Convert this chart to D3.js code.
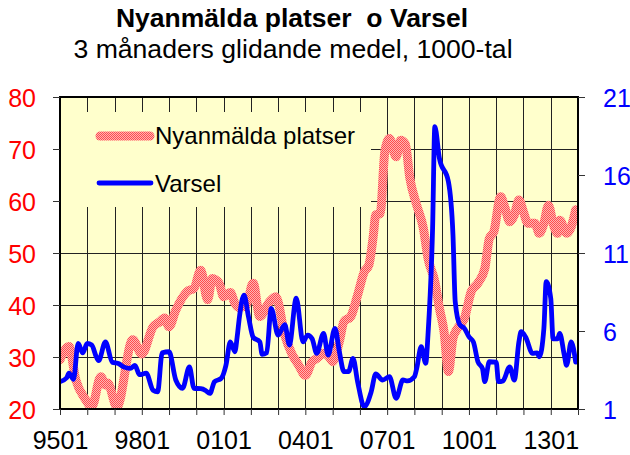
<!DOCTYPE html>
<html><head><meta charset="utf-8">
<script src="https://cdn.jsdelivr.net/npm/d3@7"></script>
<style>
html,body{margin:0;padding:0;background:#fff;}
svg{display:block;font-family:"Liberation Sans",Arial,sans-serif;}
text{white-space:pre;}
</style></head>
<body><svg id="c" width="630" height="455"></svg>
<script>
// ---- data (month "YYYY-MM", values in 1000s) ----
const platserMonths = ["1995-01","1995-05","1995-08","1995-12","1996-03","1996-07","1996-09","1996-10","1997-02","1997-09","1998-01","1998-06","1998-09","1998-11","1999-01","1999-04","1999-09","1999-12","2000-03","2000-06","2000-08","2000-11","2001-01","2001-04","2001-06","2001-08","2001-11","2002-02","2002-05","2002-09","2002-12","2003-04","2003-07","2003-10","2004-01","2004-04","2004-06","2004-09","2004-12","2005-01","2005-04","2005-06","2005-09","2005-12","2006-03","2006-05","2006-07","2006-08","2006-10","2006-12","2007-02","2007-05","2007-07","2007-09","2007-11","2008-02","2008-05","2008-07","2008-10","2008-12","2009-02","2009-04","2009-06","2009-08","2009-11","2010-02","2010-05","2010-08","2010-10","2010-12","2011-03","2011-05","2011-07","2011-09","2011-11","2012-01","2012-03","2012-06","2012-08","2012-10","2012-12","2013-02","2013-04","2013-05","2013-08","2013-10","2013-12"];
const platserValues = [29.5,32,25.6,22,20.4,26.2,24.6,25,20.4,33.3,30.6,35.8,36.8,37.5,35.8,39,42.6,43.2,46.7,41,45.1,44.2,41.6,42.4,40.3,39.5,40,44.2,37.8,40.5,41.6,34.2,30.7,28.5,26.5,29.1,29.7,30.7,29.7,29.1,33,36.8,37.8,41.9,46.4,47.7,53.5,57.3,57.6,69.5,72,68.5,71.7,71,64.4,59.2,54.7,49,44.5,39.4,34.9,27.2,33.6,35.5,37.4,42.6,44.2,47,52.8,54.1,60.8,58.6,56,57.3,60.2,57.9,55.7,55.7,53.8,55.7,59.2,55.7,53.8,56.3,53.8,55,58.3];

const varselMonths = ["1995-01","1995-04","1995-05","1995-07","1995-09","1995-11","1996-01","1996-03","1996-05","1996-06","1996-09","1996-12","1997-03","1997-05","1997-08","1997-10","1997-12","1998-03","1998-06","1998-08","1998-10","1999-01","1999-04","1999-07","1999-10","1999-12","2000-03","2000-05","2000-07","2000-09","2000-12","2001-02","2001-04","2001-06","2001-07","2001-08","2001-10","2001-12","2002-02","2002-05","2002-06","2002-08","2002-10","2003-01","2003-04","2003-06","2003-09","2003-12","2004-02","2004-04","2004-06","2004-09","2004-11","2005-02","2005-04","2005-06","2005-08","2005-10","2005-12","2006-03","2006-06","2006-08","2006-11","2007-02","2007-05","2007-08","2007-10","2008-01","2008-02","2008-04","2008-06","2008-07","2008-09","2008-10","2008-12","2009-04","2009-06","2009-07","2009-09","2009-11","2010-01","2010-03","2010-05","2010-07","2010-08","2010-10","2011-01","2011-02","2011-04","2011-07","2011-09","2011-11","2011-12","2012-02","2012-05","2012-07","2012-08","2012-10","2012-11","2013-01","2013-02","2013-04","2013-05","2013-07","2013-08","2013-10","2013-12"];
const varselValues = [2.75,3.0,3.3,2.9,5.2,4.6,5.2,5.1,4.35,4.1,5.3,4.0,3.9,3.7,3.6,3.8,3.2,3.3,2.2,2.1,4.6,4.67,2.86,2.33,3.7,2.33,2.3,2.2,2.0,2.75,2.97,3.8,5.3,4.67,5.6,6.9,8.3,6.9,5.6,5.3,4.5,4.6,7.45,5.74,6.4,5.1,8.1,5.3,5.74,5.5,4.57,5.85,4.46,6.17,4.67,3.4,3.4,4.25,2.75,1.15,2.1,3.25,2.86,3.07,1.69,2.86,2.8,3.07,3.6,5.0,3.93,5.74,12.6,19.1,17.07,15.57,12.15,7.88,6.4,6.17,5.63,5.3,4.03,3.6,2.75,4.03,4.0,2.75,2.8,3.7,2.86,5.3,5.96,5.6,4.57,4.6,4.35,6.17,9.16,8.1,5.5,5.5,5.85,4.46,3.8,5.3,4.0];

const xTickLabels = ["9501","9801","0101","0401","0701","1001","1301"];
const leftTicks = [20,30,40,50,60,70,80];
const rightTicks = [1,6,11,16,21];
const seriesNames = ["Nyanmälda platser","Varsel"];
const titleText = "Nyanmälda platser  o Varsel";
const subtitleText = "3 månaders glidande medel, 1000-tal";

// ---- layout ----
const L = 60, R = 578, T = 97, B = 409;
const svg = d3.select("#c");
const parse = d3.timeParse("%Y-%m");
const FONT = "'Liberation Sans',Arial,sans-serif";

const x = d3.scaleTime().domain([new Date(1995,0,1), new Date(2014,0,1)]).range([L, R]);
const yL = d3.scaleLinear().domain([20,80]).range([B, T]);
const yR = d3.scaleLinear().domain([1,21]).range([B, T]);

const defs = svg.append("defs");
const pat = defs.append("pattern").attr("id","checker").attr("patternUnits","userSpaceOnUse")
  .attr("width",2).attr("height",2);
pat.append("rect").attr("width",2).attr("height",2).attr("fill","#ffb4b4");
pat.append("rect").attr("width",1).attr("height",1).attr("fill","#ff4d4d");
pat.append("rect").attr("x",1).attr("y",1).attr("width",1).attr("height",1).attr("fill","#ff4d4d");

// title
svg.append("text").attr("x",292).attr("y",27).attr("text-anchor","middle")
  .attr("font-size",26.5).attr("font-weight","bold").attr("fill","#000").text(titleText);
svg.append("text").attr("x",293).attr("y",58).attr("text-anchor","middle")
  .attr("font-size",26.6).attr("fill","#000").text(subtitleText);

// plot background
svg.append("rect").attr("x",L).attr("y",T).attr("width",R-L).attr("height",B-T).attr("fill","#ffffcc");

// gridlines
const years = x.ticks(d3.timeYear.every(1));
svg.append("g").selectAll("line").data(years.slice(1,-1)).join("line")
  .attr("x1",d=>Math.round(x(d))+0.5).attr("x2",d=>Math.round(x(d))+0.5)
  .attr("y1",T).attr("y2",B).attr("stroke","#222").attr("stroke-width",1);
svg.append("g").selectAll("line").data(leftTicks.slice(1,-1)).join("line")
  .attr("x1",L).attr("x2",R)
  .attr("y1",d=>Math.round(yL(d))+0.5).attr("y2",d=>Math.round(yL(d))+0.5)
  .attr("stroke","#222").attr("stroke-width",1);

// legend background (covers grid)
svg.append("rect").attr("x",L+1).attr("y",112).attr("width",310).attr("height",95).attr("fill","#ffffcc");

// lines
const lineP = d3.line().x(d=>x(d[0])).y(d=>yL(d[1])).curve(d3.curveMonotoneX);
const lineV = d3.line().x(d=>x(d[0])).y(d=>yR(d[1])).curve(d3.curveMonotoneX);
const pData = platserMonths.map((m,i)=>[parse(m), platserValues[i]]);
const vData = varselMonths.map((m,i)=>[parse(m), varselValues[i]]);

const clip = defs.append("clipPath").attr("id","clip");
clip.append("rect").attr("x",L).attr("y",T).attr("width",R-L).attr("height",B-T);

svg.append("path").datum(pData).attr("d",lineP).attr("fill","none")
  .attr("stroke","url(#checker)").attr("stroke-width",9).attr("stroke-linejoin","round").attr("stroke-linecap","round")
  .attr("clip-path","url(#clip)");
svg.append("path").datum(vData).attr("d",lineV).attr("fill","none")
  .attr("stroke","#0000ff").attr("stroke-width",4.8).attr("stroke-linejoin","round").attr("stroke-linecap","round")
  .attr("clip-path","url(#clip)");

// frame
svg.append("rect").attr("x",L).attr("y",T).attr("width",R-L).attr("height",B-T)
  .attr("fill","none").attr("stroke","#000").attr("stroke-width",2);

// axes
const xAxis = d3.axisBottom(x).ticks(d3.timeYear.every(1)).tickSize(6)
  .tickFormat(d => { const k=(d.getFullYear()-1995); return (k%3===0 && k/3 < xTickLabels.length) ? xTickLabels[k/3] : ""; });
const gx = svg.append("g").attr("transform",`translate(0,${B})`).call(xAxis);
gx.select(".domain").remove();
gx.selectAll("line").attr("stroke","#333");
gx.selectAll("text").attr("font-size",25).attr("fill","#000").attr("dy","1.25em").attr("font-family",FONT);

const gl = svg.append("g").attr("transform",`translate(${L},0)`)
  .call(d3.axisLeft(yL).tickValues(leftTicks).tickSize(7).tickPadding(17));
gl.select(".domain").remove();
gl.selectAll("line").attr("stroke","#333");
gl.selectAll("text").attr("font-size",25).attr("fill","#ff0000").attr("dy","0.36em").attr("font-family",FONT);

const gr = svg.append("g").attr("transform",`translate(${R},0)`)
  .call(d3.axisRight(yR).tickValues(rightTicks).tickSize(7).tickPadding(18));
gr.select(".domain").remove();
gr.selectAll("line").attr("stroke","#333");
gr.selectAll("text").attr("font-size",25).attr("fill","#0000ff").attr("dy","0.36em").attr("font-family",FONT);

// legend
const leg = svg.append("g");
leg.append("line").attr("x1",100).attr("x2",150).attr("y1",136).attr("y2",136)
  .attr("stroke","url(#checker)").attr("stroke-width",9).attr("stroke-linecap","round");
leg.append("text").attr("x",155).attr("y",144).attr("font-size",24).attr("fill","#000").text(seriesNames[0]);
leg.append("line").attr("x1",99).attr("x2",151).attr("y1",183).attr("y2",183)
  .attr("stroke","#0000ff").attr("stroke-width",4.8).attr("stroke-linecap","round");
leg.append("text").attr("x",155).attr("y",192).attr("font-size",24).attr("fill","#000").text(seriesNames[1]);
</script></body></html>
